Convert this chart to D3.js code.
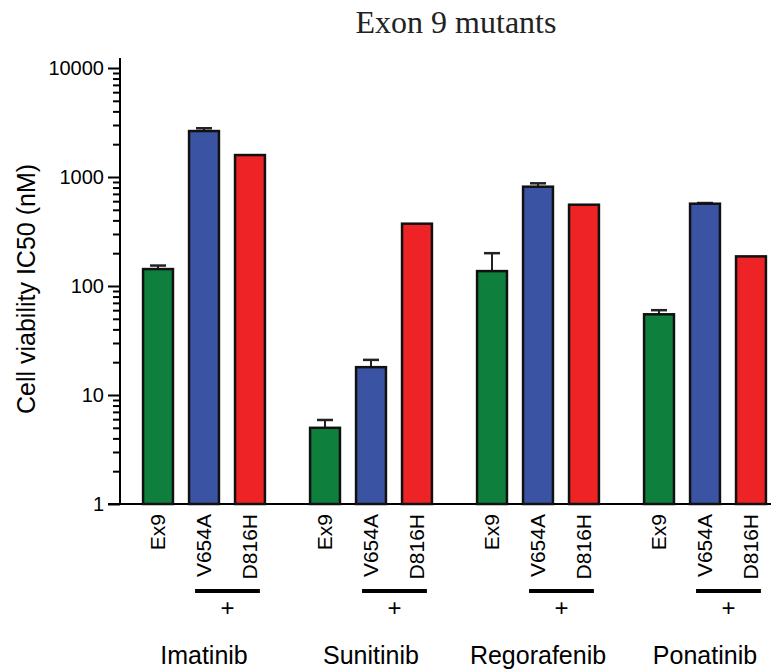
<!DOCTYPE html>
<html>
<head>
<meta charset="utf-8">
<script src="https://cdn.jsdelivr.net/npm/d3@7"></script>
<style>
  body { margin: 0; background: #fff; }
  text { font-family: "Liberation Sans", Arial, sans-serif; }
</style>
</head>
<body>
<div id="wrapper"></div>
<script>
const drugs = ["Imatinib", "Sunitinib", "Regorafenib", "Ponatinib"];
const mutants = ["Ex9", "V654A", "D816H"];
// IC50 means (nM), one row per drug, in mutant order
const ic50 = [
    [143, 2640, 1590],
    [5.0, 18, 373],
    [137, 815, 557],
    [55, 569, 187]
];
// upper end of error bar (null = none drawn)
const errTop = [
    [154, 2800, null],
    [5.9, 21, null],
    [200, 875, null],
    [60, 577, null]
];
const majorTicks = [1, 10, 100, 1000, 10000];
const colors = {"Ex9": "#0f7f3e", "V654A": "#3a54a3", "D816H": "#ee2325"};

const dimension = {
    width: 781,
    height: 672,
    axisX: 120,
    baseY: 504,
    topY: 68
};

const svg = d3.select("#wrapper").append("svg")
    .attr("width", dimension.width)
    .attr("height", dimension.height);

const yScaler = d3.scaleLog()
    .domain([1, 10000])
    .range([dimension.baseY, dimension.topY]);

const xGroup = d3.scaleBand()
    .domain(drugs)
    .range([120, 789])
    .paddingInner(0.174)
    .paddingOuter(0.09);

const xInner = d3.scaleBand()
    .domain(mutants)
    .range([0, xGroup.bandwidth()])
    .paddingInner(0.35)
    .paddingOuter(0.175);

// title
svg.append("text")
    .attr("x", 456)
    .attr("y", 33)
    .attr("text-anchor", "middle")
    .style("font-family", "'Liberation Serif', 'Times New Roman', serif")
    .style("font-size", "32px")
    .attr("fill", "#222")
    .text("Exon 9 mutants");

// y label
svg.append("text")
    .attr("transform", `translate(35,289) rotate(-90)`)
    .attr("text-anchor", "middle")
    .style("font-size", "25px")
    .text("Cell viability IC50 (nM)");

// minor ticks
const minorTicks = [];
for (let e = 0; e < 4; e++) for (let m = 2; m <= 9; m++) minorTicks.push(m * Math.pow(10, e));

const yAxis = svg.append("g").attr("transform", `translate(${dimension.axisX},0)`);
yAxis.call(d3.axisLeft(yScaler).tickValues(majorTicks).tickFormat(d3.format("d")).tickSize(12).tickPadding(4));
yAxis.select(".domain").remove();
yAxis.selectAll(".tick line").attr("stroke-width", 2);
yAxis.selectAll(".tick text").style("font-size", "20px").attr("fill", "#000");

const yMinor = svg.append("g").attr("transform", `translate(${dimension.axisX},0)`);
yMinor.call(d3.axisLeft(yScaler).tickValues(minorTicks).tickFormat("").tickSize(7));
yMinor.select(".domain").remove();
yMinor.selectAll(".tick line").attr("stroke-width", 2);

// axis lines
svg.append("line")
    .attr("x1", dimension.axisX).attr("x2", dimension.axisX)
    .attr("y1", dimension.baseY + 1).attr("y2", 58)
    .attr("stroke", "#000").attr("stroke-width", 2);
svg.append("line")
    .attr("x1", dimension.axisX - 12).attr("x2", 771)
    .attr("y1", dimension.baseY).attr("y2", dimension.baseY)
    .attr("stroke", "#000").attr("stroke-width", 2);

// bars
const groups = svg.selectAll("g.drug")
    .data(drugs)
    .join("g")
    .attr("class", "drug")
    .attr("transform", d => `translate(${xGroup(d)},0)`);

groups.each(function(drug, i) {
    const g = d3.select(this);
    const rows = mutants.map((m, j) => ({m: m, v: ic50[i][j], e: errTop[i][j]}));

    g.selectAll("line.err")
        .data(rows.filter(r => r.e !== null))
        .join("line")
        .attr("x1", r => xInner(r.m) + xInner.bandwidth() / 2)
        .attr("x2", r => xInner(r.m) + xInner.bandwidth() / 2)
        .attr("y1", r => yScaler(r.v))
        .attr("y2", r => yScaler(r.e))
        .attr("stroke", "#222").attr("stroke-width", 2);
    g.selectAll("line.cap")
        .data(rows.filter(r => r.e !== null))
        .join("line")
        .attr("x1", r => xInner(r.m) + xInner.bandwidth() / 2 - 8)
        .attr("x2", r => xInner(r.m) + xInner.bandwidth() / 2 + 8)
        .attr("y1", r => yScaler(r.e))
        .attr("y2", r => yScaler(r.e))
        .attr("stroke", "#222").attr("stroke-width", 2.5);

    g.selectAll("rect")
        .data(rows)
        .join("rect")
        .attr("x", r => xInner(r.m))
        .attr("width", xInner.bandwidth())
        .attr("y", r => yScaler(r.v))
        .attr("height", r => dimension.baseY - yScaler(r.v))
        .attr("fill", r => colors[r.m])
        .attr("stroke", "#111")
        .attr("stroke-width", 2.5);

    g.selectAll("text.mut")
        .data(rows)
        .join("text")
        .attr("class", "mut")
        .attr("transform", r => `translate(${xInner(r.m) + xInner.bandwidth() / 2 + 7},514) rotate(-90)`)
        .attr("text-anchor", "end")
        .style("font-size", "21px")
        .text(r => r.m);

    const x1 = xInner("V654A") + 6;
    const x2 = xInner("D816H") + xInner.bandwidth() - 5;
    g.append("line")
        .attr("x1", x1).attr("x2", x2)
        .attr("y1", 591).attr("y2", 591)
        .attr("stroke", "#000").attr("stroke-width", 4);
    g.append("text")
        .attr("x", (x1 + x2) / 2)
        .attr("y", 616)
        .attr("text-anchor", "middle")
        .style("font-size", "24px")
        .text("+");

    g.append("text")
        .attr("x", xGroup.bandwidth() / 2)
        .attr("y", 664)
        .attr("text-anchor", "middle")
        .style("font-size", "25px")
        .text(drug);
});
</script>
</body>
</html>
